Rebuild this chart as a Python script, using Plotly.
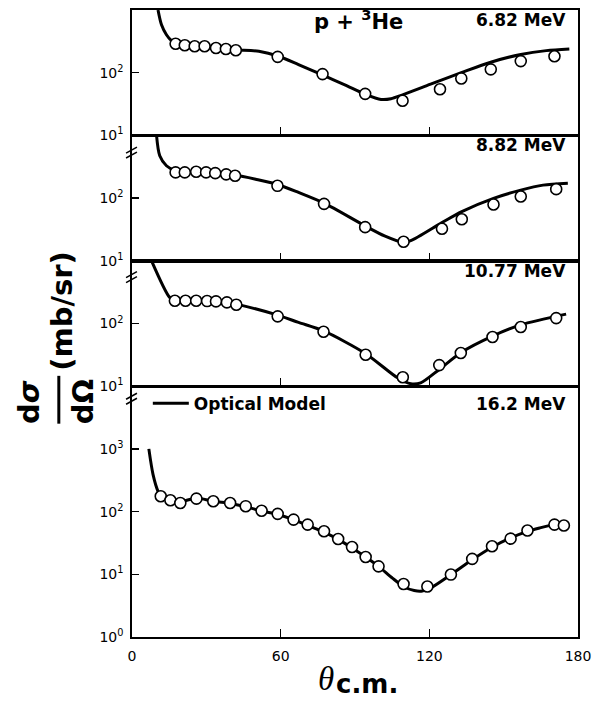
import plotly.graph_objects as go
from plotly.subplots import make_subplots

# ---------------- data ----------------
energies = ["6.82 MeV", "8.82 MeV", "10.77 MeV", "16.2 MeV"]

angles1 = [17.6, 21.3, 25.3, 29.3, 33.9, 37.9, 41.9, 58.8, 76.9, 94.1, 109.2, 124.3, 132.9, 144.8, 156.9, 170.5]
xs1 = [290, 274, 264, 264, 248, 239, 228, 179, 95, 46, 35.7, 54.5, 81, 113, 153, 183]

angles2 = [17.6, 21.3, 25.9, 29.9, 33.6, 38.0, 41.6, 58.7, 77.5, 94.1, 109.6, 125.1, 133.1, 145.9, 156.9, 171.2]
xs2 = [257, 257, 263, 257, 250, 239, 227, 157, 81, 34.4, 20.1, 32.4, 46, 79, 106, 139]

angles3 = [17.3, 21.6, 25.9, 30.3, 33.9, 38.3, 42.1, 58.8, 77.3, 94.3, 109.3, 124.0, 132.7, 145.5, 156.9, 171.2]
xs3 = [231, 231, 231, 228, 225, 217, 199, 130, 74, 31.8, 13.9, 21.7, 33.8, 61, 88, 122]

angles4 = [11.6, 15.5, 19.5, 26.0, 32.8, 39.6, 45.9, 52.3, 58.8, 65.2, 70.9, 77.5, 83.2, 88.8, 94.3,
           99.5, 109.6, 119.2, 128.7, 137.3, 145.3, 152.8, 159.6, 170.5, 174.3]
xs4 = [176, 152, 137, 161, 146, 137, 122, 103, 92, 74.5, 62, 48.5, 36.6, 27.3, 18.9,
       13.4, 7.0, 6.4, 9.9, 17.6, 28, 37, 50, 62, 60]

# optical model curves
om_ang1 = [10.5, 11.9, 13.9, 15.9, 17.6, 21.3, 25.3, 29.3, 33.9, 37.9, 41.9, 51.2, 59.2, 67.2, 76.9,
           85.9, 94.1, 100.5, 104.5, 109.2, 120.5, 132.9, 144.8, 156.9, 167.2, 176.5]
om_xs1 = [1000, 580, 403, 324, 290, 274, 265, 262, 250, 240, 230, 220, 183, 135, 92,
          64, 45.5, 37.5, 38.4, 44.4, 65.5, 100, 147, 195, 225, 239]

om_ang2 = [9.9, 11.2, 13.9, 17.6, 21.3, 25.9, 29.9, 33.6, 38.0, 41.6, 49.9, 58.7, 67.2, 77.5, 94.1,
           101.9, 109.6, 112.5, 125.1, 133.1, 145.9, 156.9, 165.9, 175.9]
om_xs2 = [1000, 473, 328, 273, 265, 262, 258, 252, 240, 233, 200, 165, 123, 83, 36,
          25, 19.6, 20.9, 40.7, 61, 99, 134, 161, 173]

om_ang3 = [7.9, 15.2, 17.3, 21.6, 25.9, 30.3, 33.9, 38.3, 42.1, 58.8, 67.2, 77.3, 94.3, 107.2,
           112.5, 116.5, 124.0, 132.7, 145.5, 156.9, 175.2]
om_xs3 = [1000, 261, 234, 232, 232, 229, 226, 218, 204, 136, 104, 76, 33, 13.6,
          10.9, 11.3, 18.5, 34.3, 63, 95, 141]

om_ang4 = [6.8, 8.5, 10.5, 11.6, 15.5, 19.5, 26.0, 32.8, 39.6, 45.9, 52.3, 58.8, 65.2, 70.9, 77.5,
           83.2, 88.8, 94.3, 99.5, 105.1, 109.6, 113.9, 117.2, 120.5, 128.7, 137.3, 145.3, 152.8,
           159.6, 164.5, 170.5, 174.5]
om_xs4 = [1000, 389, 211, 180, 152, 143, 165, 146, 135, 120, 102, 90, 74.5, 60, 47,
          36, 26.3, 18.9, 13.4, 8.7, 6.4, 5.5, 5.4, 6.05, 9.9, 17.1, 27, 38,
          48.5, 54.8, 62, 63.5]

x_ticks = [0, 60, 120, 180]
y_ticks_small = [10, 100]
y_ticktext_small = ["10<sup>1</sup>", "10<sup>2</sup>"]
y_ticks_big = [1, 10, 100, 1000]
y_ticktext_big = ["10<sup>0</sup>", "10<sup>1</sup>", "10<sup>2</sup>", "10<sup>3</sup>"]

# ---------------- figure ----------------
W, H = 599, 702
ML, MR, MT, MB = 132, 16, 8, 65
PW, PH = W - ML - MR, H - MT - MB

def px(xp):
    return (xp - ML) / PW

def py(yp):
    return (H - MB - yp) / PH

fig = make_subplots(rows=4, cols=1, shared_xaxes=True, vertical_spacing=0,
                    row_heights=[0.2, 0.2, 0.2, 0.4])

panels = [
    (angles1, xs1, om_ang1, om_xs1),
    (angles2, xs2, om_ang2, om_xs2),
    (angles3, xs3, om_ang3, om_xs3),
    (angles4, xs4, om_ang4, om_xs4),
]

for i, (a, v, oa, ov) in enumerate(panels):
    r = i + 1
    fig.add_trace(go.Scatter(x=oa, y=ov, mode="lines",
                             line=dict(color="black", width=3, shape="spline", smoothing=0.8),
                             name="<b>Optical Model</b>", showlegend=(r == 4),
                             hoverinfo="skip"), row=r, col=1)
    fig.add_trace(go.Scatter(x=a, y=v, mode="markers",
                             marker=dict(symbol="circle", size=11, color="white",
                                         line=dict(color="black", width=1.6)),
                             showlegend=False, name=energies[i]), row=r, col=1)

tickfont = dict(family="DejaVu Sans", size=14, color="black")
for r in range(1, 5):
    big = (r == 4)
    fig.update_yaxes(type="log", range=[0, 4] if big else [1, 3],
                     tickvals=y_ticks_big if big else y_ticks_small,
                     ticktext=y_ticktext_big if big else y_ticktext_small,
                     ticks="inside", ticklen=7, tickwidth=1.5, tickcolor="black",
                     showline=True, linecolor="black", linewidth=1.7, mirror=True,
                     showgrid=False, zeroline=False, tickfont=tickfont,
                     ticklabelstandoff=4, ticklabeloverflow="allow",
                     row=r, col=1)
    fig.update_xaxes(range=[0, 180], tickvals=x_ticks, ticks="inside", ticklen=8,
                     tickwidth=1.5, tickcolor="black",
                     showline=True, linecolor="black", linewidth=1.7, mirror=True,
                     showgrid=False, zeroline=False,
                     showticklabels=big, tickfont=dict(family="DejaVu Sans", size=14, color="black"),
                     ticklabelstandoff=5, ticklabeloverflow="allow",
                     row=r, col=1)

annots = []
lab_font = dict(family="DejaVu Sans", size=17, color="black")
label_y = [18, 143, 270, 403]
for i, e in enumerate(energies):
    annots.append(dict(text="<b>%s</b>" % e, xref="paper", yref="paper", x=px(573), y=py(label_y[i]),
                       xanchor="right", yanchor="middle", showarrow=False, font=lab_font))
annots.append(dict(text="<b>p + <sup>3</sup>He</b>", xref="paper", yref="paper", x=px(361), y=py(18),
                   xanchor="center", yanchor="middle", showarrow=False,
                   font=dict(family="DejaVu Sans", size=21, color="black")))

tfont = dict(family="DejaVu Sans", size=29, color="black")
annots.append(dict(text="<b>d<i>σ</i></b>", xref="paper", yref="paper", x=px(28), y=py(401),
                   textangle=-90, showarrow=False, xanchor="center", yanchor="middle", font=tfont))
annots.append(dict(text="<b>dΩ</b>", xref="paper", yref="paper", x=px(82), y=py(401),
                   textangle=-90, showarrow=False, xanchor="center", yanchor="middle", font=tfont))
annots.append(dict(text="<b>(mb/sr)</b>", xref="paper", yref="paper", x=px(61), y=py(310),
                   textangle=-90, showarrow=False, xanchor="center", yanchor="middle", font=tfont))
annots.append(dict(text="<i>θ</i>", xref="paper", yref="paper", x=px(328), y=py(679),
                   showarrow=False, xanchor="center", yanchor="middle",
                   font=dict(family="Liberation Serif", size=33, color="black")))
annots.append(dict(text="<b>c.m.</b>", xref="paper", yref="paper", x=px(336), y=py(684),
                   showarrow=False, xanchor="left", yanchor="middle",
                   font=dict(family="DejaVu Sans", size=26, color="black")))

shapes = []
# fraction bar
shapes.append(dict(type="line", xref="paper", yref="paper", x0=px(58), x1=px(58),
                   y0=py(375), y1=py(423), line=dict(color="black", width=3)))
# axis break marks
for yc in [151, 276, 398]:
    for off in (-2.5, 2.5):
        shapes.append(dict(type="line", xref="paper", yref="paper",
                           x0=px(126), y0=py(yc + off + 3), x1=px(137), y1=py(yc + off - 3),
                           line=dict(color="black", width=1.5)))

fig.update_layout(
    width=W, height=H,
    margin=dict(l=ML, r=MR, t=MT, b=MB),
    paper_bgcolor="white", plot_bgcolor="white",
    annotations=annots, shapes=shapes,
    showlegend=True, hovermode=False,
    legend=dict(x=px(148), y=py(403), xanchor="left", yanchor="middle",
                bgcolor="rgba(0,0,0,0)", borderwidth=0,
                font=dict(family="DejaVu Sans", size=17, color="black"),
                itemwidth=36),
)

fig.write_html("out.html", config={"displayModeBar": False, "staticPlot": True},
               post_script="document.body.style.margin='0px';document.body.style.overflow='hidden';")
